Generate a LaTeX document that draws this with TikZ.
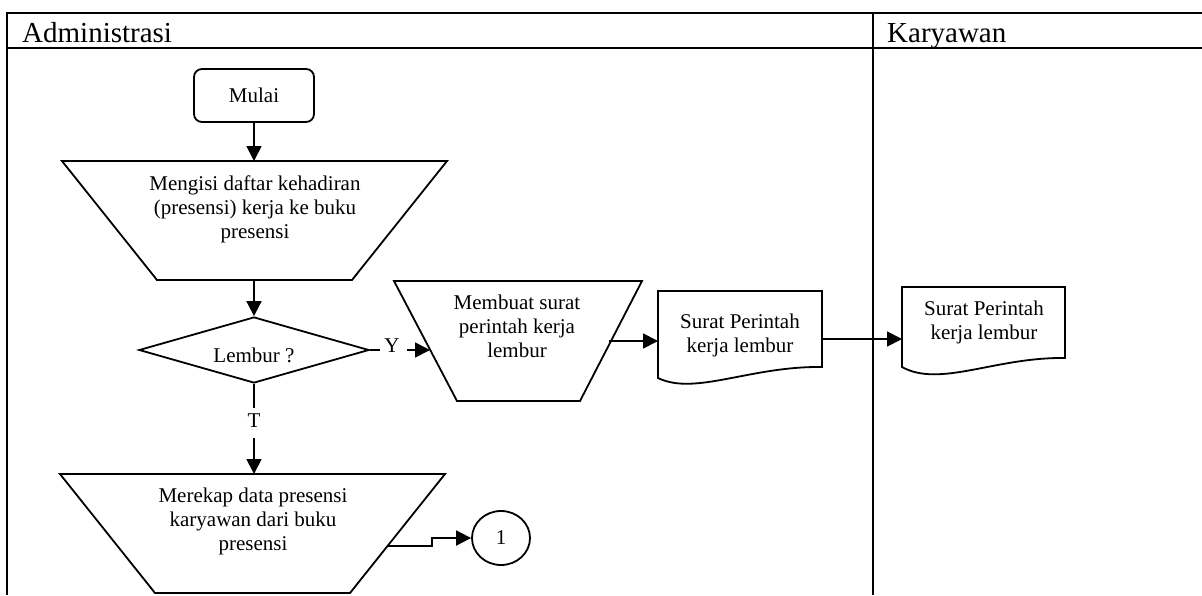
\documentclass[tikz,border=0pt]{standalone}
\usepackage{fontspec}
\setmainfont{Liberation Serif}
\usetikzlibrary{arrows.meta,shapes.geometric}
\begin{document}
\begin{tikzpicture}[x=1pt,y=-1pt,
  frame/.style={line width=1.3pt},
  shp/.style={draw, line width=1.8pt},
  txt/.style={align=center, font=\fontsize{21}{24}\selectfont, inner sep=0pt},
  hdr/.style={anchor=base west, font=\fontsize{29}{32}\selectfont, inner sep=0pt},
  conn/.style={line width=1.8pt},
  arr/.style={conn, -{Triangle[length=15pt,width=15pt]}},
  lbl/.style={font=\fontsize{21}{24}\selectfont, inner sep=0pt}]
\useasboundingbox (0,0) rectangle (1202,595);

% swimlane frame
\draw[frame] (7,595) -- (7,13) -- (1202,13);
\draw[frame] (7,48) -- (1202,48);
\draw[frame] (873,13) -- (873,595);
\node[hdr] (hadm) at (22,42) {Administrasi};
\node[hdr] (hkar) at (887,42) {Karyawan};

% Mulai
\node[shp, rounded corners=8pt, minimum width=120pt, minimum height=53pt, txt] (mulai) at (254,95.5) {Mulai};

% Trapezoid 1
\draw[shp] (62,161) -- (447,161) -- (352,280) -- (157,280) -- cycle;
\coordinate (t1n) at (254,161);
\coordinate (t1s) at (254,280);
\node[txt] (t1) at (255,209) {Mengisi daftar kehadiran\\(presensi) kerja ke buku\\presensi};

% Decision
\node[draw, diamond, aspect=3.5, line width=1.8pt, minimum width=230pt, minimum height=66pt, inner sep=0pt, text height=24pt, text depth=0pt, font=\fontsize{21}{24}\selectfont] (dec) at (254,350) {Lembur ?};

% Trapezoid 2
\draw[shp] (60,474) -- (445,474) -- (350,593) -- (155,593) -- cycle;
\coordinate (t2n) at (254,474);
\coordinate (t2e) at (388,546);
\node[txt] (t2) at (253,521) {Merekap data presensi\\karyawan dari buku\\presensi};

% Trapezoid 3
\draw[shp] (394,281) -- (642,281) -- (580,401) -- (457,401) -- cycle;
\coordinate (t3w) at (430,350);
\coordinate (t3e) at (609,341);
\node[txt] (t3) at (517,326) {Membuat surat\\perintah kerja\\lembur};

% Document 1
\draw[shp] (658,378) -- (658,291) -- (822,291) -- (822,367)
  .. controls (750,366) and (695,396) .. (658,378) -- cycle;
\coordinate (d1w) at (658,341);
\coordinate (d1e) at (822,339);
\node[txt] (d1) at (740,335) {Surat Perintah\\kerja lembur};

% Document 2
\draw[shp] (902,367) -- (902,287) -- (1065,287) -- (1065,358)
  .. controls (995,357) and (940,388) .. (902,367) -- cycle;
\coordinate (d2w) at (902,339);
\node[txt] (d2) at (984,322) {Surat Perintah\\kerja lembur};

% Connector circle
\node[draw, ellipse, line width=1.8pt, minimum width=58pt, minimum height=54pt, txt] (c1) at (501,538) {1};

% Labels
\node[lbl] (ylab) at (392,346) {Y};
\node[lbl] (tlab) at (254,421) {T};
\coordinate (ya) at (380,350);
\coordinate (yb) at (407,350);
\coordinate (ta) at (254,408);
\coordinate (tb) at (254,438);

% Connectors
\draw[arr] (mulai.south) -- (t1n);
\draw[arr] (t1s) -- (dec.north);
\draw[conn] (dec.east) -- (ya);
\draw[arr] (yb) -- (t3w);
\draw[conn] (dec.south) -- (ta);
\draw[arr] (tb) -- (t2n);
\draw[arr] (t3e) -- (d1w);
\draw[arr] (d1e) -- (d2w);
\draw[arr] (t2e) -- ++(44,0) |- (c1.west);
\end{tikzpicture}
\end{document}
